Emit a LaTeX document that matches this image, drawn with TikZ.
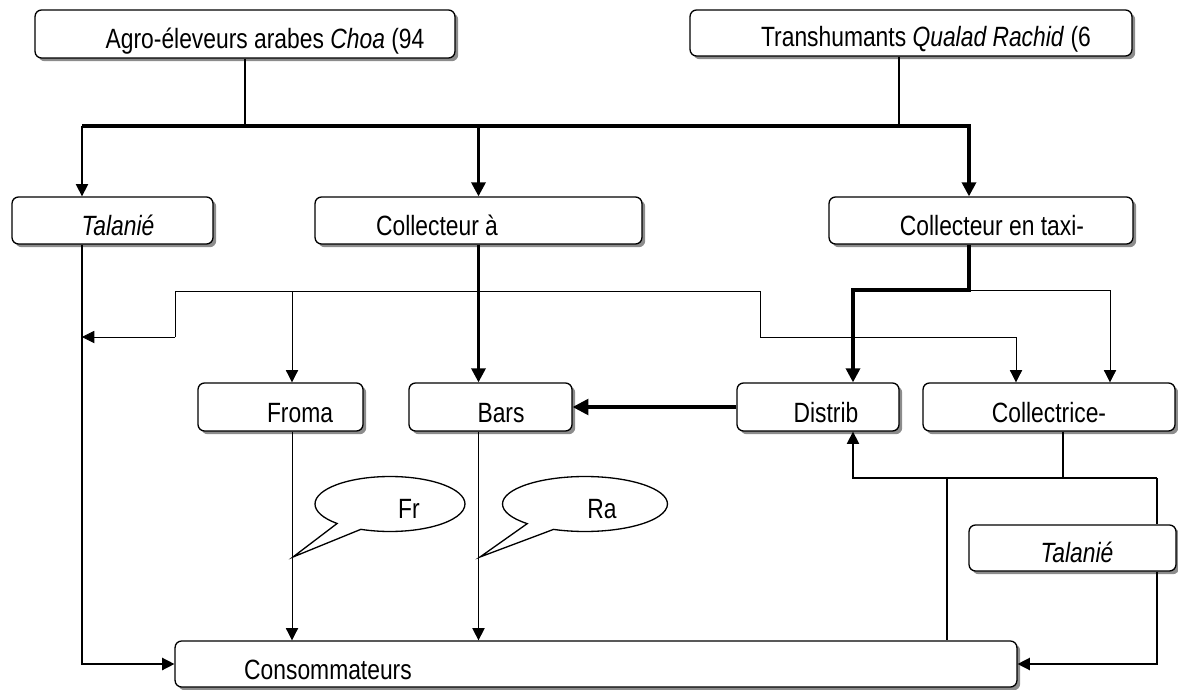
\documentclass[tikz,border=0pt]{standalone}
\usepackage{fontspec}
\setmainfont{Liberation Sans}
\usetikzlibrary{arrows.meta,shadows,shapes.callouts,positioning}
\newcommand{\etire}[1]{\scalebox{1}[1.22]{#1}}

\begin{document}
\begin{tikzpicture}[x=0.02cm,y=-0.02cm,font=\fontsize{13}{15}\selectfont,
  box/.style={draw, line width=0.75pt, rounded corners=0.13cm, fill=white, inner sep=0pt,
    drop shadow={shadow xshift=0.065cm, shadow yshift=-0.065cm, fill=black!45, opacity=1}},
  lbl/.style={anchor=base, inner sep=0pt},
  bulle/.style={ellipse callout, draw, line width=0.75pt, fill=white, callout pointer arc=22,
    minimum height=1.1cm},
  fluxfin/.style={line width=0.45pt, -{Triangle[length=7pt,width=7pt]}},
  fluxmoyen/.style={line width=0.8pt, -{Triangle[length=7pt,width=7pt]}},
  fluxfort/.style={line width=1.8pt, -{Triangle[length=8pt,width=8pt]}},
]
\useasboundingbox (0,0) rectangle (1178,690);

\node[box, minimum width=8.4cm, minimum height=0.96cm] (agro) at (245,34) {};
\node[box, minimum width=8.84cm, minimum height=0.92cm] (trans) at (911,33) {};
\node[box, minimum width=4.02cm, minimum height=0.94cm] (tal1) at (112.5,220.5) {};
\node[box, minimum width=6.54cm, minimum height=0.94cm] (colv) at (478.5,220.5) {};
\node[box, minimum width=6.08cm, minimum height=0.94cm] (coltx) at (981,220.5) {};
\node[box, minimum width=3.3cm, minimum height=0.96cm] (froma) at (280.5,407) {};
\node[box, minimum width=3.26cm, minimum height=0.96cm] (bars) at (490.5,407) {};
\node[box, minimum width=3.24cm, minimum height=0.96cm] (distrib) at (818,407) {};
\node[box, minimum width=5.04cm, minimum height=0.96cm] (collectrice) at (1049,407) {};
\node[box, minimum width=4.14cm, minimum height=0.92cm] (tal2) at (1072.5,548) {};
\node[box, minimum width=16.84cm, minimum height=0.92cm] (conso) at (596,664) {};

\node[lbl] (lagro) at (265,48) {\etire{Agro-éleveurs arabes \textit{Choa} (94}};
\node[lbl] (ltrans) at (926,46) {\etire{Transhumants \textit{Qualad Rachid} (6}};
\node[lbl] (ltal1) at (118,235) {\etire{\textit{Talanié}}};
\node[lbl] (lcolv) at (437,235) {\etire{Collecteur à}};
\node[lbl] (lcoltx) at (992,235) {\etire{Collecteur en taxi-}};
\node[lbl] (lfroma) at (300,422) {\etire{Froma}};
\node[lbl] (lbars) at (501,422) {\etire{Bars}};
\node[lbl] (ldistrib) at (826,422) {\etire{Distrib}};
\node[lbl] (lcollectrice) at (1049,422) {\etire{Collectrice-}};
\node[lbl] (ltal2) at (1077,562) {\etire{\textit{Talanié}}};
\node[lbl] (lconso) at (328,679) {\etire{Consommateurs}};

\coordinate (frpt) at (293,557);
\coordinate (rapt) at (480,557);
\node[bulle, minimum width=3cm, callout absolute pointer={(frpt)}] (bfr) at (390,504) {};
\node[bulle, minimum width=3.3cm, callout absolute pointer={(rapt)}] (bra) at (585,504) {};
\node[lbl] (lfr) at (409,518) {\etire{Fr}};
\node[lbl] (lra) at (602,518) {\etire{Ra}};

\coordinate (jA) at (245,126);
\coordinate (jT) at (899,126);
\coordinate (bL) at (82,126);
\coordinate (bR) at (969,126);
\coordinate (gH) at (175,291);
\coordinate (dH) at (760,291);
\coordinate (gB) at (175,337);
\coordinate (dB) at (760,337);
\coordinate (cA) at (1016,337);
\coordinate (fA) at (292,291);
\coordinate (tA) at (969,290);
\coordinate (tB) at (853,290);
\coordinate (tC) at (1110,290);
\coordinate (rA) at (1063,478);
\coordinate (rL) at (853,478);
\coordinate (rM) at (947,478);
\coordinate (rR) at (1157,478);

\draw[line width=0.6pt] (agro) -- (jA);
\draw[line width=0.6pt] (trans.south -| jT) -- (jT);
\draw[fluxfort] (bL) -- (bR) -- (bR |- coltx.north);
\draw[fluxmoyen] (bL) -- (bL |- tal1.north);
\draw[fluxfort] (colv.south |- bL) -- (colv.north);
\draw[fluxfort] (colv.south) -- (colv.south |- bars.north);
\draw[fluxmoyen] (bL |- tal1.south) |- (conso.west);

\draw[fluxfin] (gB) -- (gB -| bL);
\draw[line width=0.45pt] (gB) -- (gH) -- (dH) -- (dB);
\draw[fluxfin] (dB) -- (cA) -- (cA |- collectrice.north);
\draw[fluxfin] (fA) -- (fA |- froma.north);

\draw[fluxfort] (tA |- coltx.south) -- (tA) -- (tB) -- (tB |- distrib.north);
\draw[fluxfin] (tA) -- (tC) -- (tC |- collectrice.north);
\draw[line width=1.8pt, -{Triangle[length=9pt,width=9pt]}] (distrib) -- (bars);

\draw[fluxfin] (fA |- froma.south) -- (fA |- conso.north);
\draw[fluxmoyen] (colv.south |- bars.south) -- (colv.south |- conso.north);

\draw[line width=0.6pt] (rA |- collectrice.south) -- (rA);
\draw[fluxmoyen] (rR) -- (rL) -- (rL |- distrib.south);
\draw[line width=0.8pt] (rM) -- (rM |- conso.north);
\draw[line width=0.8pt] (rR) -- (rR |- tal2.north);
\draw[fluxmoyen] (rR |- tal2.south) |- (conso.east);
\end{tikzpicture}
\end{document}
